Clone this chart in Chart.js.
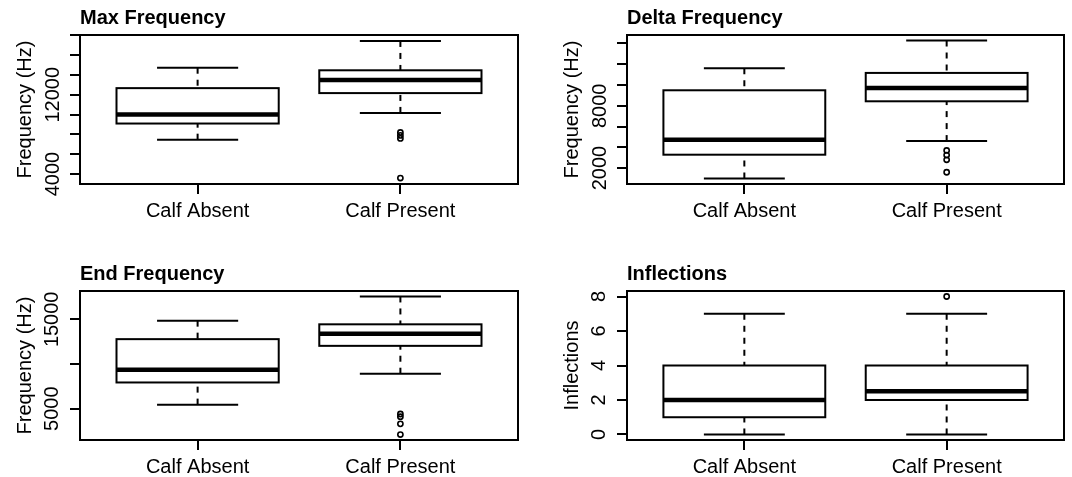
<!DOCTYPE html>
<html>
<head>
<meta charset="utf-8">
<script src="https://cdn.jsdelivr.net/npm/chart.js@4.4.1/dist/chart.umd.min.js"></script>
<style>
  body { margin: 0; background: #fff; }
  #wrap { position: relative; width: 1072px; height: 477px; }
  canvas { position: absolute; }
</style>
</head>
<body>
<div id="wrap">
  <canvas id="maxFreq" width="547" height="256" style="left:0;top:0"></canvas>
  <canvas id="deltaFreq" width="525" height="256" style="left:547px;top:0"></canvas>
  <canvas id="endFreq" width="547" height="221" style="left:0;top:256px"></canvas>
  <canvas id="inflections" width="525" height="221" style="left:547px;top:256px"></canvas>
</div>
<script>
const categories = ['Calf Absent', 'Calf Present'];
const catPositions = [1, 2];

// per group: lower whisker, Q1, median, Q3, upper whisker
const maxFreqBoxes = [[7470, 9100, 10000, 12670, 14730], [10170, 12170, 13500, 14470, 17430]];
const maxFreqOutliers = [[], [8200, 7900, 7600, 3600]];
const maxFreqTicks = [4000, 6000, 8000, 10000, 12000, 14000, 16000, 18000];
const maxFreqTickLabels = ['4000', '', '', '', '12000', '', '', ''];

const deltaFreqBoxes = [[1000, 3290, 4730, 9490, 11610], [4600, 8430, 9720, 11160, 14280]];
const deltaFreqOutliers = [[], [3700, 3250, 2800, 1600]];
const deltaFreqTicks = [2000, 4000, 6000, 8000, 10000, 12000, 14000];
const deltaFreqTickLabels = ['2000', '', '', '8000', '', '', ''];

const endFreqBoxes = [[5450, 7930, 9360, 12780, 14850], [8910, 12030, 13380, 14440, 17560]];
const endFreqOutliers = [[], [4400, 4100, 3300, 2100]];
const endFreqTicks = [5000, 10000, 15000];
const endFreqTickLabels = ['5000', '', '15000'];

const inflBoxes = [[0, 1, 2, 4, 7], [0, 2, 2.5, 4, 7]];
const inflOutliers = [[], [8]];
const inflTicks = [0, 2, 4, 6, 8];
const inflTickLabels = ['0', '2', '4', '6', '8'];

Chart.defaults.font.family = '"Liberation Sans", Arial, sans-serif';
Chart.defaults.color = '#000';

// draws the boxes/whiskers and the frame round the plot area
const boxPlugin = {
  id: 'boxes',
  beforeDatasetsDraw(chart, args, opts) {
    const { ctx, scales: { x, y } } = chart;
    const half = opts.width / 2;
    const seg = (x1, y1, x2, y2) => { ctx.beginPath(); ctx.moveTo(x1, y1); ctx.lineTo(x2, y2); ctx.stroke(); };
    opts.stats.forEach((s, i) => {
      const c = catPositions[i];
      const left = x.getPixelForValue(c - half);
      const right = x.getPixelForValue(c + half);
      const capL = x.getPixelForValue(c - half / 2);
      const capR = x.getPixelForValue(c + half / 2);
      const px = x.getPixelForValue(c);
      const [lo, q1, med, q3, hi] = s.map(v => y.getPixelForValue(v));
      ctx.save();
      ctx.strokeStyle = '#000';
      ctx.lineWidth = 2;
      ctx.setLineDash([6, 6]);
      seg(px, hi, px, q3);
      seg(px, lo, px, q1);
      ctx.setLineDash([]);
      seg(capL, hi, capR, hi);
      seg(capL, lo, capR, lo);
      ctx.strokeRect(left, q3, right - left, q1 - q3);
      ctx.lineWidth = 4.5;
      seg(left, med, right, med);
      ctx.restore();
    });
  },
  afterDatasetsDraw(chart) {
    const { ctx, chartArea: a } = chart;
    ctx.save();
    ctx.strokeStyle = '#000';
    ctx.lineWidth = 2;
    ctx.strokeRect(a.left, a.top, a.right - a.left, a.bottom - a.top);
    ctx.restore();
  }
};

function makePanel(id, title, yTitle, boxes, outliers, ticks, tickLabels, yMin, yMax, tickPad, xHeight, rightPad) {
  const tickGrid = { drawOnChartArea: false, drawTicks: true, tickLength: 10, color: '#000', lineWidth: 2 };
  new Chart(document.getElementById(id), {
    type: 'scatter',
    data: {
      datasets: [{
        data: outliers.flatMap((vals, i) => vals.map(v => ({ x: catPositions[i], y: v }))),
        pointRadius: 2.6,
        pointHoverRadius: 2.6,
        pointBorderWidth: 1.6,
        pointBorderColor: '#000',
        pointBackgroundColor: 'rgba(0,0,0,0)'
      }]
    },
    options: {
      responsive: false,
      animation: false,
      events: [],
      layout: { padding: { right: rightPad } },
      plugins: {
        legend: { display: false },
        tooltip: { enabled: false },
        title: {
          display: true, text: title, align: 'start', fullSize: false,
          font: { size: 20, weight: 'bold' }, padding: { top: 6, bottom: 5 }
        },
        boxes: { stats: boxes, width: 0.8 }
      },
      scales: {
        x: {
          type: 'linear', min: 0.42, max: 2.58,
          afterBuildTicks: s => { s.ticks = catPositions.map(v => ({ value: v })); },
          afterFit: s => { s.height = xHeight; },
          ticks: { callback: (v, i) => categories[i], font: { size: 20 }, padding: 5, maxRotation: 0, autoSkip: false },
          grid: tickGrid,
          border: { display: false }
        },
        y: {
          min: yMin, max: yMax,
          afterBuildTicks: s => { s.ticks = ticks.map(v => ({ value: v })); },
          afterFit: s => { s.width = 80; },
          ticks: {
            callback: (v, i) => tickLabels[i], font: { size: 20 },
            minRotation: 90, maxRotation: 90, crossAlign: 'center', padding: tickPad, autoSkip: false
          },
          grid: tickGrid,
          border: { display: false },
          title: { display: true, text: yTitle, font: { size: 20 }, padding: { top: 13, bottom: 0 } }
        }
      }
    },
    plugins: [boxPlugin]
  });
}

makePanel('maxFreq', 'Max Frequency', 'Frequency (Hz)', maxFreqBoxes, maxFreqOutliers,
  maxFreqTicks, maxFreqTickLabels, 3000, 18030, -11.3, 72, 29);
makePanel('deltaFreq', 'Delta Frequency', 'Frequency (Hz)', deltaFreqBoxes, deltaFreqOutliers,
  deltaFreqTicks, deltaFreqTickLabels, 470, 14810, -5.7, 72, 8);
makePanel('endFreq', 'End Frequency', 'Frequency (Hz)', endFreqBoxes, endFreqOutliers,
  endFreqTicks, endFreqTickLabels, 1490, 18170, -10.3, 37, 29);
makePanel('inflections', 'Inflections', 'Inflections', inflBoxes, inflOutliers,
  inflTicks, inflTickLabels, -0.32, 8.32, 12.4, 37, 8);
</script>
</body>
</html>
